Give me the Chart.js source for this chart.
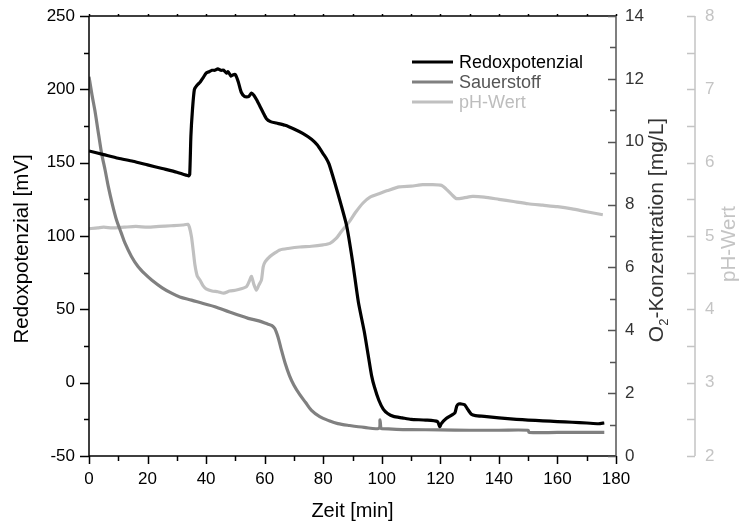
<!DOCTYPE html>
<html lang="de">
<head>
<meta charset="UTF-8">
<title>Redoxpotenzial, Sauerstoff, pH</title>
<script src="https://cdn.jsdelivr.net/npm/chart.js"></script>
<style>
    html, body { margin: 0; padding: 0; background: #fff; overflow: hidden; }
    canvas { display: block; }
</style>
</head>
<body>
<canvas id="grafico" width="741" height="521"></canvas>
<script>
// Redoxpotenzial [mV]
var redoxZeit = [0, 5, 10, 15, 20, 25, 30, 34, 34.4, 34.8, 35.3, 36, 37, 38, 39, 40, 41, 42, 43, 44, 45, 46, 47, 47.5, 48.5, 49.3, 50, 51, 52, 53.2, 54.5, 55.5, 56.3, 57.2, 58.5, 59.5, 60.6, 62, 64, 67, 70, 73, 76, 78, 80, 81, 82, 84, 86, 88, 90, 92, 94, 95.5, 96.5, 97.5, 99, 100.5, 102, 104, 107, 110, 115, 119, 119.8, 120.3, 122, 124, 125, 125.6, 126.3, 127, 128.3, 129.3, 130.6, 132, 135, 140, 146, 150, 155, 160, 165, 170, 174, 176];
var redoxWert = [158, 155.5, 153, 151, 148.5, 146, 143.5, 141, 142, 168, 185, 200, 203, 205, 208, 211, 212, 213, 213, 214, 213, 213, 211, 212, 209, 210, 210, 205, 198, 195, 195, 197.5, 196, 193, 188, 184, 180, 178, 177, 175.5, 173, 170, 166, 162, 156, 153, 149, 136, 122, 107, 83, 55, 35, 17, 5, -3, -12, -18, -21, -23, -24, -25, -25.5, -26.5, -30, -28, -24.5, -22, -20.5, -16, -14.5, -14.5, -15, -18, -21.5, -22.5, -23, -24, -25, -25.5, -26, -26.5, -27, -27.5, -28, -27.5];

// Sauerstoff [mg/L]
var o2Zeit = [0, 1, 2, 3, 4.3, 5.5, 6.6, 8, 9.4, 11, 12.3, 14.5, 16.8, 19, 21.4, 25, 28.2, 31, 35, 39, 43, 48, 54.4, 58, 61, 62.5, 63.5, 64.5, 65.5, 67, 68.5, 70, 72, 74, 76, 78.8, 82, 85, 89, 94, 99, 99.4, 99.7, 100.1, 105, 110, 120, 130, 140, 150, 150.3, 160, 170, 176];
var o2Wert = [12.07, 11.5, 11.0, 10.4, 9.63, 9.1, 8.57, 8.0, 7.51, 7.1, 6.77, 6.35, 6.02, 5.8, 5.6, 5.35, 5.18, 5.06, 4.96, 4.85, 4.75, 4.58, 4.38, 4.3, 4.2, 4.15, 4.05, 3.8, 3.45, 2.95, 2.55, 2.25, 1.95, 1.7, 1.45, 1.25, 1.12, 1.03, 0.97, 0.91, 0.88, 1.15, 0.88, 0.87, 0.85, 0.84, 0.83, 0.82, 0.82, 0.82, 0.75, 0.75, 0.75, 0.75];

// pH-Wert
var phZeit = [0, 3, 5, 8, 12, 16, 20, 24, 28, 32, 33.8, 34.3, 35, 35.6, 36.2, 37, 37.9, 39, 40, 42, 44, 46, 48, 50, 52, 53.8, 54.7, 55.5, 56.3, 57.2, 58, 58.9, 59.5, 60.2, 61.8, 63.5, 65.2, 68, 72, 76, 80, 82.3, 84.5, 86, 89, 91, 93.6, 96, 99.3, 102, 106, 110, 114, 117, 120.4, 122, 124, 125.5, 128, 131, 135, 140, 145, 150, 155, 160, 165, 170, 175.5];
var phWert = [5.10, 5.11, 5.12, 5.11, 5.12, 5.13, 5.12, 5.13, 5.14, 5.15, 5.16, 5.12, 4.99, 4.8, 4.6, 4.45, 4.4, 4.32, 4.28, 4.25, 4.24, 4.22, 4.25, 4.26, 4.28, 4.31, 4.38, 4.45, 4.34, 4.26, 4.33, 4.4, 4.58, 4.65, 4.72, 4.77, 4.81, 4.83, 4.85, 4.86, 4.88, 4.9, 4.97, 5.05, 5.2, 5.32, 5.45, 5.53, 5.58, 5.62, 5.67, 5.68, 5.70, 5.70, 5.69, 5.64, 5.56, 5.51, 5.52, 5.54, 5.53, 5.5, 5.47, 5.44, 5.42, 5.4, 5.37, 5.33, 5.29];

var serien = ['Redoxpotenzial', 'Sauerstoff', 'pH-Wert'];
var farben = ['#000000', '#808080', '#c0c0c0'];
var textFarben = ['#000000', '#555555', '#bdbdbd'];

function punkte(zeit, wert) {
    return zeit.map(function (t, i) { return { x: t, y: wert[i] }; });
}

var fonte = 'Liberation Sans, Arial, sans-serif';

// feste breiten/hoehen, ohne extra label-padding
function fixGroesse(breite, hoehe) {
    return function (s) {
        if (breite) s.width = breite;
        if (hoehe) s.height = hoehe;
        s.paddingTop = 0; s.paddingBottom = 0; s.paddingLeft = 0; s.paddingRight = 0;
    };
}

// text senkrecht, von unten nach oben
function senkrecht(c, teile, x, y) {
    c.save();
    c.translate(x, y);
    c.rotate(-Math.PI / 2);
    c.textAlign = 'left';
    c.textBaseline = 'middle';
    var breite = 0;
    teile.forEach(function (t) { c.font = t.size + 'px ' + fonte; t.w = c.measureText(t.text).width; breite += t.w; });
    var x0 = -breite / 2;
    teile.forEach(function (t) {
        c.font = t.size + 'px ' + fonte;
        c.fillText(t.text, x0, t.dy || 0);
        x0 += t.w;
    });
    c.restore();
}

// achsen im origin-stil zeichnen (ticks, rahmen, titel, legende)
var achsenPlugin = {
    id: 'achsen',
    afterDraw: function (chart) {
        var c = chart.ctx;
        var a = chart.chartArea;
        var sx = chart.scales.x, sy = chart.scales.y, s2 = chart.scales.y2, s3 = chart.scales.y3;
        var v;
        c.save();
        c.lineWidth = 1.5;

        // links + unten + oben (schwarz)
        c.strokeStyle = '#000';
        c.beginPath();
        c.moveTo(a.left, a.top); c.lineTo(a.left, a.bottom);
        c.moveTo(a.left, a.bottom); c.lineTo(a.right, a.bottom);
        c.moveTo(a.left, a.top); c.lineTo(a.right, a.top);
        for (v = -50; v <= 250; v += 25) {
            var py = Math.round(sy.getPixelForValue(v)) + 0.5;
            c.moveTo(a.left - (v % 50 === 0 ? 9 : 5), py); c.lineTo(a.left, py);
        }
        for (v = 0; v <= 180; v += 10) {
            var px = Math.round(sx.getPixelForValue(v)) + 0.5;
            c.moveTo(px, a.bottom); c.lineTo(px, a.bottom + (v % 20 === 0 ? 8 : 5));
            c.moveTo(px, a.top); c.lineTo(px, a.top - 2);
        }
        c.stroke();

        // O2 achse
        c.strokeStyle = '#555';
        c.beginPath();
        c.moveTo(a.right, a.top); c.lineTo(a.right, a.bottom);
        for (v = 0; v <= 14; v += 1) {
            var py2 = Math.round(s2.getPixelForValue(v)) + 0.5;
            c.moveTo(a.right - (v % 2 === 0 ? 8 : 6), py2); c.lineTo(a.right, py2);
        }
        c.stroke();

        // pH achse
        var xp = s3.left;
        c.strokeStyle = '#c4c4c4';
        c.beginPath();
        c.moveTo(xp, a.top); c.lineTo(xp, a.bottom);
        for (v = 2; v <= 8; v += 0.5) {
            var py3 = Math.round(s3.getPixelForValue(v)) + 0.5;
            c.moveTo(xp - 8, py3); c.lineTo(xp, py3);
        }
        c.stroke();

        // achsentitel
        c.fillStyle = '#000';
        senkrecht(c, [{ text: 'Redoxpotenzial [mV]', size: 20.5 }], 22, 249);
        c.fillStyle = '#333';
        senkrecht(c, [{ text: 'O', size: 21 }, { text: '2', size: 13, dy: 7 }, { text: '-Konzentration [mg/L]', size: 21 }], 657, 230);
        c.fillStyle = '#c4c4c4';
        senkrecht(c, [{ text: 'pH-Wert', size: 20.5 }], 729, 244);

        // legende
        c.font = '18px ' + fonte;
        c.textAlign = 'left';
        c.textBaseline = 'middle';
        c.lineWidth = 3;
        chart.data.datasets.forEach(function (ds, i) {
            var ly = 62 + i * 20;
            c.strokeStyle = ds.borderColor;
            c.beginPath();
            c.moveTo(412, ly); c.lineTo(453, ly);
            c.stroke();
            c.fillStyle = textFarben[i];
            c.fillText(ds.label, 459, ly + 1);
        });
        c.restore();
    }
};

var ctx = document.getElementById('grafico').getContext('2d');
new Chart(ctx, {
    type: 'line',
    data: {
        datasets: [
            { label: serien[0], data: punkte(redoxZeit, redoxWert), yAxisID: 'y', borderColor: farben[0], borderWidth: 3.2, pointRadius: 0, tension: 0.2, order: 1 },
            { label: serien[1], data: punkte(o2Zeit, o2Wert), yAxisID: 'y2', borderColor: farben[1], borderWidth: 3.2, pointRadius: 0, tension: 0.3, order: 2 },
            { label: serien[2], data: punkte(phZeit, phWert), yAxisID: 'y3', borderColor: farben[2], borderWidth: 3.2, pointRadius: 0, tension: 0.2, order: 3 }
        ]
    },
    options: {
        responsive: false,
        animation: false,
        devicePixelRatio: 1,
        layout: { padding: { top: 16, left: 0, right: 0, bottom: 0 } },
        plugins: { legend: { display: false }, tooltip: { enabled: false } },
        scales: {
            x: {
                type: 'linear', min: 0, max: 180,
                grid: { display: false, drawTicks: false }, border: { display: false },
                ticks: { stepSize: 20, padding: 13, maxRotation: 0, color: '#000', font: { family: fonte, size: 17 } },
                title: { display: true, text: 'Zeit [min]', color: '#000', padding: { top: 0, bottom: 0 }, font: { family: fonte, size: 20, lineHeight: 1 } },
                afterFit: fixGroesse(0, 65)
            },
            y: {
                position: 'left', min: -50, max: 250,
                grid: { display: false, drawTicks: false }, border: { display: false },
                ticks: { stepSize: 50, padding: 14, color: '#000', font: { family: fonte, size: 17 } },
                afterFit: fixGroesse(89, 0)
            },
            y2: {
                position: 'right', min: 0, max: 14, weight: 0,
                grid: { display: false, drawTicks: false }, border: { display: false },
                ticks: { stepSize: 2, padding: 9, color: '#333', font: { family: fonte, size: 17 } },
                afterFit: fixGroesse(79, 0)
            },
            y3: {
                position: 'right', min: 2, max: 8, weight: 1,
                grid: { display: false, drawTicks: false }, border: { display: false },
                ticks: { stepSize: 1, padding: 10, color: '#c4c4c4', font: { family: fonte, size: 17 } },
                afterFit: fixGroesse(46, 0)
            }
        }
    },
    plugins: [achsenPlugin]
});
</script>
</body>
</html>
